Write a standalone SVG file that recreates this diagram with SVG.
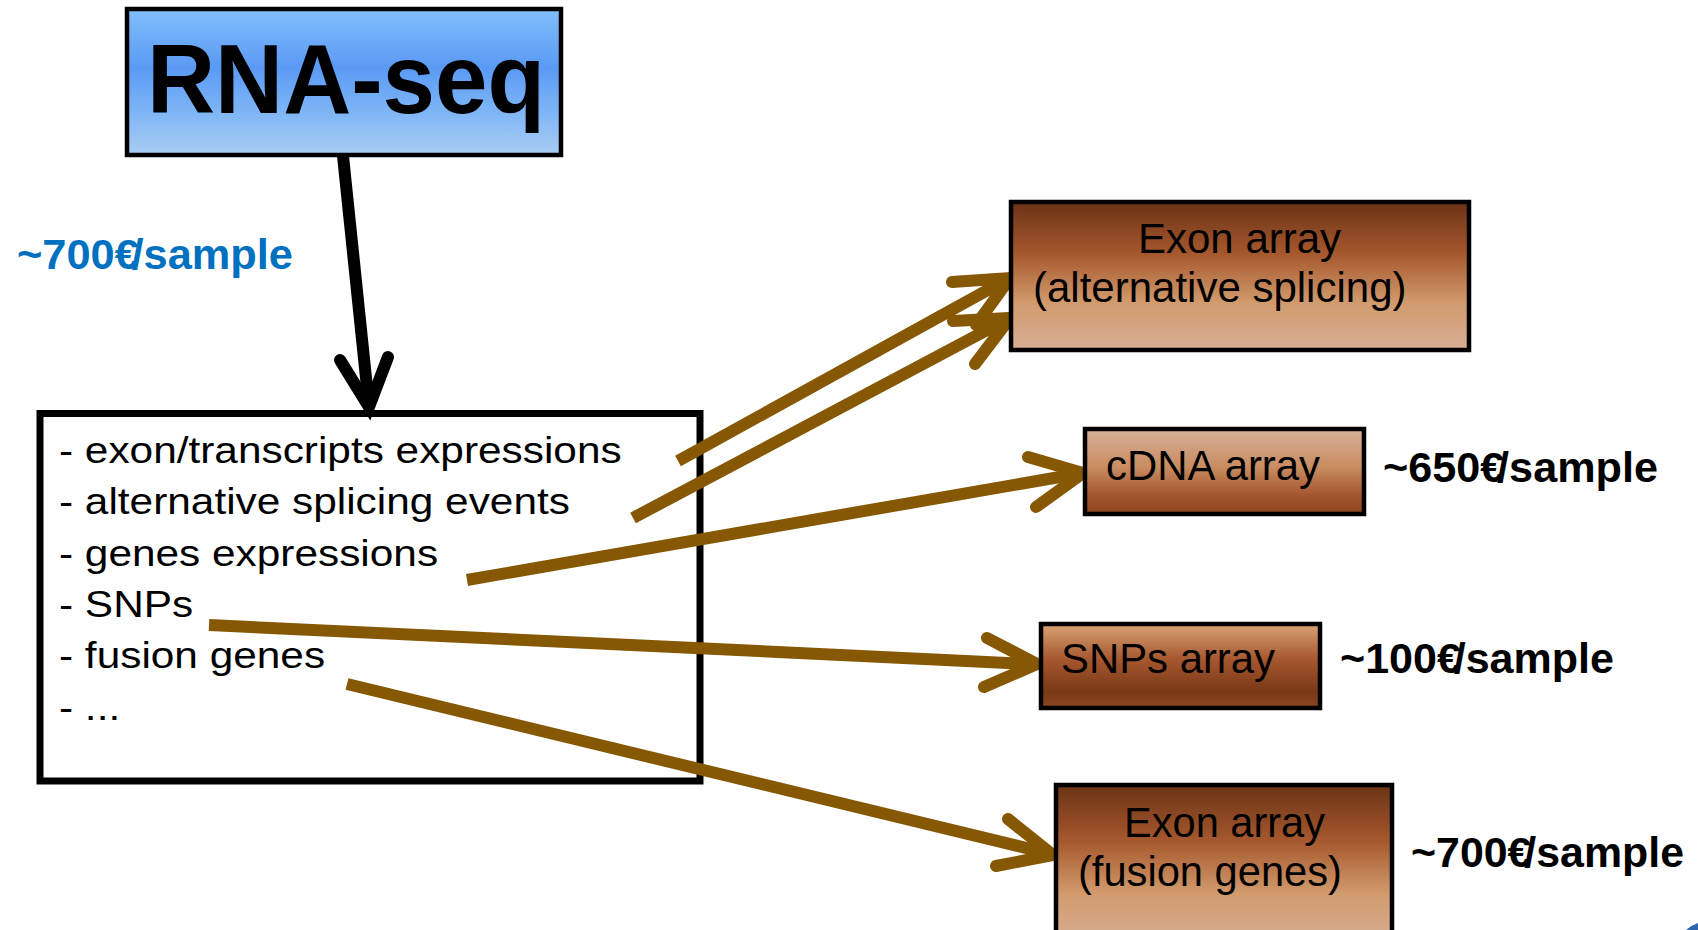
<svg xmlns="http://www.w3.org/2000/svg" width="1698" height="930" viewBox="0 0 1698 930">
  <defs>
    <linearGradient id="gBlue" x1="0" y1="0" x2="0" y2="1">
      <stop offset="0" stop-color="#82bffc"/>
      <stop offset="0.4" stop-color="#5a9af5"/>
      <stop offset="0.7" stop-color="#7db5f6"/>
      <stop offset="1" stop-color="#abcdf2"/>
    </linearGradient>
    <linearGradient id="gBrownDown" x1="0" y1="0" x2="0" y2="1">
      <stop offset="0" stop-color="#6a3316"/>
      <stop offset="0.35" stop-color="#a6582d"/>
      <stop offset="0.68" stop-color="#d19b6d"/>
      <stop offset="1" stop-color="#d8ae97"/>
    </linearGradient>
    <linearGradient id="gBrownUp" x1="0" y1="0" x2="0" y2="1">
      <stop offset="0" stop-color="#d8b09b"/>
      <stop offset="0.45" stop-color="#c88c60"/>
      <stop offset="0.8" stop-color="#a2532b"/>
      <stop offset="1" stop-color="#8a441f"/>
    </linearGradient>
    <linearGradient id="gBrownSnp" x1="0" y1="0" x2="0" y2="1">
      <stop offset="0" stop-color="#d9a374"/>
      <stop offset="0.42" stop-color="#a6572f"/>
      <stop offset="0.8" stop-color="#793916"/>
      <stop offset="1" stop-color="#8c4521"/>
    </linearGradient>
  </defs>
  <style>
    .lbl { font-family: "Liberation Sans", Arial, sans-serif; font-size: 42px; fill: #000; }
    .list { font-family: "Liberation Sans", Arial, sans-serif; font-size: 37px; fill: #000; }
    .price { font-family: "Liberation Sans", Arial, sans-serif; font-size: 42px; font-weight: bold; fill: #000; }
    .box { stroke: #000; stroke-width: 4.5; }
    .shaft { fill: none; stroke: #865804; stroke-width: 12; stroke-linecap: butt; }
    .head { fill: none; stroke: #865804; stroke-width: 12; stroke-linecap: round; stroke-linejoin: miter; stroke-miterlimit: 10; }
  </style>

  <!-- top node -->
  <g id="rnaseq">
    <rect x="127" y="9" width="434" height="146" fill="url(#gBlue)" stroke="#000" stroke-width="4.5"/>
    <text x="147" y="113" font-family="Liberation Sans, Arial, sans-serif" font-size="98" font-weight="bold" textLength="398" lengthAdjust="spacingAndGlyphs">RNA-seq</text>
  </g>

  <!-- cost of sequencing -->
  <g id="rnaseq-price">
    <text class="price" x="17" y="269" style="fill:#0070c0" font-size="40" textLength="276" lengthAdjust="spacingAndGlyphs">~700€<tspan dx="-7">/</tspan>sample</text>
  </g>

  <!-- what RNA-seq measures -->
  <g id="features">
    <rect x="40" y="413.5" width="660" height="367.5" fill="#fff" stroke="#000" stroke-width="7"/>
    <g transform="translate(59,0) scale(1.145,1)">
      <text class="list" x="0" y="463">- exon/transcripts expressions</text>
      <text class="list" x="0" y="514.5">- alternative splicing events</text>
      <text class="list" x="0" y="566">- genes expressions</text>
      <text class="list" x="0" y="617">- SNPs</text>
      <text class="list" x="0" y="668.5">- fusion genes</text>
      <text class="list" x="0" y="720">- ...</text>
    </g>
  </g>

  <!-- connectors -->
  <g id="connectors">
    <g id="rnaseq-to-features">
      <line x1="343" y1="156" x2="368.5" y2="402" stroke="#000" stroke-width="12"/>
      <polyline points="340,360 369,407 388,357" fill="none" stroke="#000" stroke-width="12" stroke-linecap="round" stroke-linejoin="miter"/>
    </g>
    <g id="transcripts-to-exon">
      <line class="shaft" x1="678" y1="461" x2="1004" y2="281"/>
      <polyline class="head" points="952,282 1010,278 976,325"/>
    </g>
    <g id="splicing-to-exon">
      <line class="shaft" x1="633" y1="518" x2="1004" y2="321"/>
      <polyline class="head" points="953,321 1010,318 975,364"/>
    </g>
    <g id="genes-to-cdna">
      <line class="shaft" x1="467" y1="580" x2="1077" y2="474"/>
      <polyline class="head" points="1028,457 1083,473 1036,507"/>
    </g>
    <g id="snps-to-snparray">
      <line class="shaft" x1="209" y1="625" x2="1031" y2="664"/>
      <polyline class="head" points="987,638 1037,664 984,687"/>
    </g>
    <g id="fusion-to-exon">
      <line class="shaft" x1="347" y1="684" x2="1047" y2="853"/>
      <polyline class="head" points="1008,819 1053,855 996,866"/>
    </g>
  </g>

  <!-- array alternatives -->
  <g id="exon-splicing">
    <rect class="box" x="1011" y="202" width="458" height="148" fill="url(#gBrownDown)"/>
    <text class="lbl" x="1138" y="253">Exon array</text>
    <text class="lbl" x="1033" y="302">(alternative splicing)</text>
  </g>

  <g id="cdna">
    <rect class="box" x="1085" y="429" width="279" height="85" fill="url(#gBrownUp)"/>
    <text class="lbl" x="1106" y="480" font-size="37" textLength="214" lengthAdjust="spacingAndGlyphs">cDNA array</text>
  </g>
  <g id="cdna-price">
    <text class="price" x="1383" y="482" textLength="275" lengthAdjust="spacingAndGlyphs">~650€<tspan dx="-7">/</tspan>sample</text>
  </g>

  <g id="snparray">
    <rect class="box" x="1041" y="624" width="279" height="84" fill="url(#gBrownSnp)"/>
    <text class="lbl" x="1061" y="673" font-size="40" textLength="214" lengthAdjust="spacingAndGlyphs">SNPs array</text>
  </g>
  <g id="snparray-price">
    <text class="price" x="1340" y="673" textLength="274" lengthAdjust="spacingAndGlyphs">~100€<tspan dx="-7">/</tspan>sample</text>
  </g>

  <g id="exon-fusion">
    <rect class="box" x="1056" y="785" width="336" height="160" fill="url(#gBrownDown)"/>
    <text class="lbl" x="1124" y="837" font-size="38" textLength="201" lengthAdjust="spacingAndGlyphs">Exon array</text>
    <text class="lbl" x="1078" y="886" font-size="38" textLength="264" lengthAdjust="spacingAndGlyphs">(fusion genes)</text>
  </g>
  <g id="exon-fusion-price">
    <text class="price" x="1411" y="867" textLength="273" lengthAdjust="spacingAndGlyphs">~700€<tspan dx="-7">/</tspan>sample</text>
  </g>

  <!-- edge fragment, bottom right -->
  <path d="M1686,930 Q1692,925 1698,923 L1698,930 Z" fill="#2f62ad"/>
</svg>
